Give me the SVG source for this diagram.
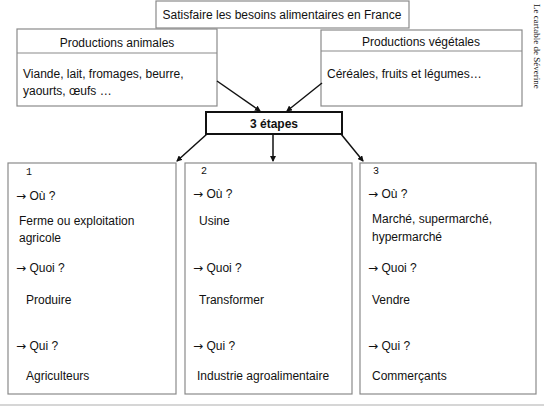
<svg xmlns="http://www.w3.org/2000/svg" width="544" height="409" viewBox="0 0 544 409">
<defs>
<style>
text{font-family:"Liberation Sans",Arial,sans-serif;font-size:12px;fill:#111}
.box{fill:#fff;stroke:#8a8a8a;stroke-width:1.2}
.c{text-anchor:middle}
.num{font-family:"Liberation Mono",monospace;font-size:10px}
.ar{font-family:"DejaVu Sans",sans-serif;font-size:12px}
.con{stroke:#111;stroke-width:1.5;fill:none;marker-end:url(#ah)}
</style>
<marker id="ah" markerWidth="6" markerHeight="6" refX="5" refY="3" orient="auto" markerUnits="userSpaceOnUse">
<path d="M0,0 L6,3 L0,6 Z" fill="#111"/>
</marker>
</defs>
<rect width="544" height="409" fill="#fff"/>
<line x1="0" y1="405" x2="544" y2="405" stroke="#c8c8c8" stroke-width="1.5"/>
<g id="title">
<rect class="box" x="156" y="1" width="253" height="27"/>
<text class="c" x="282" y="19">Satisfaire les besoins alimentaires en France</text>
</g>
<g id="animales">
<rect class="box" x="17" y="29" width="200" height="77"/>
<line x1="17" y1="53" x2="217" y2="53" stroke="#8a8a8a" stroke-width="1.2"/>
<text class="c" x="117" y="47">Productions animales</text>
<text x="23" y="78">Viande, lait, fromages, beurre,</text>
<text x="23" y="95">yaourts, œufs …</text>
</g>
<g id="vegetales">
<rect class="box" x="321" y="30" width="201" height="76"/>
<line x1="321" y1="51" x2="522" y2="51" stroke="#8a8a8a" stroke-width="1.2"/>
<text class="c" x="421" y="46">Productions végétales</text>
<text x="327" y="78">Céréales, fruits et légumes…</text>
</g>
<g id="etapes">
<rect x="206" y="112" width="136" height="22" fill="#fff" stroke="#111" stroke-width="2"/>
<text class="c" x="274" y="128" font-weight="bold">3 étapes</text>
</g>
<g id="connectors">
<line class="con" x1="217" y1="81" x2="260" y2="111"/>
<line class="con" x1="322" y1="83" x2="287" y2="111"/>
<line class="con" x1="207" y1="134" x2="177" y2="161"/>
<line class="con" x1="273" y1="134" x2="273" y2="161"/>
<line class="con" x1="341" y1="134" x2="363" y2="161"/>
</g>
<g id="etape1">
<rect class="box" x="8" y="163" width="168" height="231"/>
<text class="num" x="26" y="175">1</text>
<text x="16" y="200"><tspan class="ar">→</tspan> Où ?</text>
<text x="19" y="225">Ferme ou exploitation</text>
<text x="19" y="242">agricole</text>
<text x="16" y="272"><tspan class="ar">→</tspan> Quoi ?</text>
<text x="26" y="304">Produire</text>
<text x="16" y="350"><tspan class="ar">→</tspan> Qui ?</text>
<text x="26" y="380">Agriculteurs</text>
</g>
<g id="etape2">
<rect class="box" x="185" y="163" width="167" height="231"/>
<text class="num" x="201" y="174">2</text>
<text x="193" y="198"><tspan class="ar">→</tspan> Où ?</text>
<text x="199" y="225">Usine</text>
<text x="193" y="272"><tspan class="ar">→</tspan> Quoi ?</text>
<text x="199" y="304">Transformer</text>
<text x="193" y="350"><tspan class="ar">→</tspan> Qui ?</text>
<text x="197" y="380">Industrie agroalimentaire</text>
</g>
<g id="etape3">
<rect class="box" x="360" y="163" width="176" height="231"/>
<text class="num" x="373" y="174">3</text>
<text x="368" y="198"><tspan class="ar">→</tspan> Où ?</text>
<text x="372" y="223">Marché, supermarché,</text>
<text x="372" y="241">hypermarché</text>
<text x="368" y="272"><tspan class="ar">→</tspan> Quoi ?</text>
<text x="372" y="304">Vendre</text>
<text x="368" y="350"><tspan class="ar">→</tspan> Qui ?</text>
<text x="372" y="380">Commerçants</text>
</g>
<text transform="translate(534,4) rotate(90)" style="font-family:'Liberation Serif',serif;font-size:9px">Le cartable de Séverine</text>
</svg>
